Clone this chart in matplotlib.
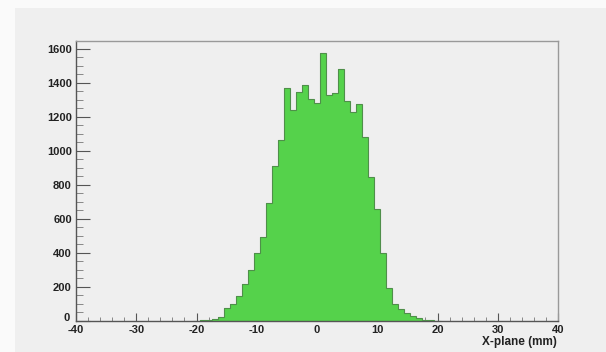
import numpy as np
import matplotlib
matplotlib.use("Agg")
import matplotlib.pyplot as plt
import matplotlib.transforms as mtransforms
from matplotlib.ticker import MultipleLocator

# Histogram contents: 1 mm bins centred on integer positions
bin_centers = list(range(-20, 21))
counts = [2, 4, 8, 12, 25, 78, 100, 148, 215, 299, 397, 494, 693, 909, 1061,
          1368, 1237, 1344, 1387, 1305, 1280, 1575, 1327, 1340, 1480, 1295,
          1227, 1272, 1080, 846, 660, 397, 192, 100, 69, 48, 30, 15, 8, 4, 2]
x_ticks = [-40, -30, -20, -10, 0, 10, 20, 30, 40]
y_ticks = [0, 200, 400, 600, 800, 1000, 1200, 1400, 1600]
x_title = "X-plane (mm)"

W, H = 606, 352
fig = plt.figure(figsize=(W / 100, H / 100), dpi=100)
fig.patch.set_facecolor("#fafafa")

# canvas panel behind the frame
bg = fig.add_axes([15 / W, 0, 1 - 15 / W, 1 - 8 / H], zorder=-10)
bg.set_facecolor("#efefef")
bg.set_xticks([])
bg.set_yticks([])
for s in bg.spines.values():
    s.set_visible(False)

ax = fig.add_axes([76 / W, 1 - 321 / H, (558 - 76) / W, (321 - 41) / H], zorder=1)
ax.set_facecolor("#efefef")

centers = np.array(bin_centers, dtype=float)
edges = np.concatenate([centers - 0.5, [centers[-1] + 0.5]])
vals = np.array(counts, dtype=float)

ax.stairs(vals, edges, fill=True, color="#55d24b", zorder=2)
ax.stairs(vals, edges, color="#4f8f4a", linewidth=0.8, zorder=3)

ax.set_xlim(-40, 40)
ax.set_ylim(0, 1645)

ax.set_xticks(x_ticks)
ax.set_yticks(y_ticks)
ax.xaxis.set_minor_locator(MultipleLocator(2))
ax.yaxis.set_minor_locator(MultipleLocator(50))

font = dict(family="Liberation Sans", weight="bold", size=8)
ax.set_xticklabels([str(t) for t in x_ticks], fontdict=font, color="#222222")
ax.set_yticklabels([str(t) for t in y_ticks], fontdict=font, color="#222222")

ax.tick_params(axis="x", which="major", direction="in", length=6, width=0.8,
               color="#555555", pad=3)
ax.tick_params(axis="x", which="minor", direction="in", length=3, width=0.6,
               color="#777777")
ax.tick_params(axis="y", which="major", direction="in", length=10, width=0.8,
               color="#555555", pad=3)
ax.tick_params(axis="y", which="minor", direction="in", length=5, width=0.6,
               color="#777777")

# lift the zero label on the y axis a little so it clears the x-axis corner label
zero_label = ax.get_yticklabels()[0]
zero_label.set_transform(zero_label.get_transform() +
                         mtransforms.ScaledTranslation(-2 / 100, 4 / 100, fig.dpi_scale_trans))

for side in ["left", "bottom"]:
    ax.spines[side].set_color("#555555")
    ax.spines[side].set_linewidth(1.0)
for side in ["top", "right"]:
    ax.spines[side].set_color("#999999")
    ax.spines[side].set_linewidth(1.0)

fig.text(557 / W, 1 - 342 / H, x_title, ha="right", va="center",
         family="Liberation Sans", weight="bold", size=8.5, color="#222222")

fig.savefig("out.png", dpi=100, facecolor=fig.get_facecolor())
